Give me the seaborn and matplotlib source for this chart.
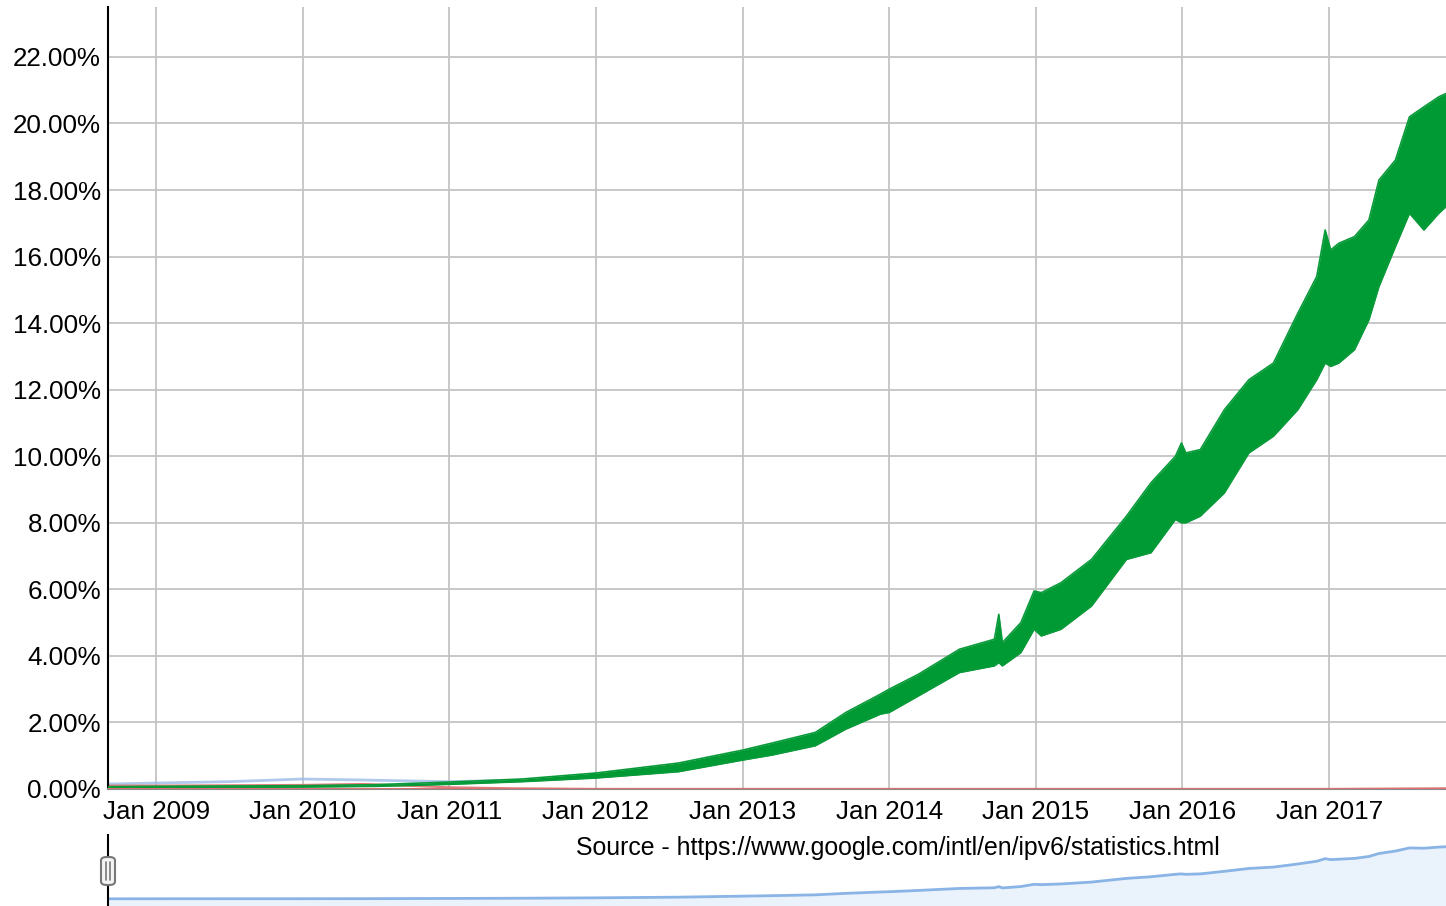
import numpy as np
import pandas as pd
import matplotlib
matplotlib.use("Agg")
import matplotlib.pyplot as plt
from matplotlib.patches import FancyBboxPatch
import seaborn as sns

# green series (native IPv6 share, %), read as weekly low / high envelope
green_dates = ["2008-09-03", "2009-01-01", "2009-07-01", "2010-01-01", "2010-07-01",
               "2011-01-01", "2011-07-01", "2012-01-01", "2012-07-25", "2013-01-01",
               "2013-03-15", "2013-07-01", "2013-09-15", "2013-12-10", "2014-01-01",
               "2014-03-15", "2014-06-25", "2014-09-20", "2014-10-01", "2014-10-10",
               "2014-11-25", "2014-12-28", "2015-01-15", "2015-03-05", "2015-05-20",
               "2015-08-15", "2015-10-15", "2015-12-15", "2015-12-30", "2016-01-10",
               "2016-02-15", "2016-04-15", "2016-06-15", "2016-08-15", "2016-10-15",
               "2016-12-01", "2016-12-22", "2017-01-05", "2017-01-25", "2017-03-05",
               "2017-04-10", "2017-05-05", "2017-06-15", "2017-07-20", "2017-08-25",
               "2017-10-01", "2017-10-19"]
green_low = [0.03, 0.04, 0.05, 0.06, 0.08,
             0.14, 0.22, 0.33, 0.52, 0.87,
             1.02, 1.30, 1.80, 2.25, 2.30,
             2.80, 3.50, 3.70, 3.80, 3.70,
             4.10, 4.80, 4.60, 4.80, 5.50,
             6.90, 7.10, 8.10, 8.00, 8.00,
             8.20, 8.90, 10.10, 10.60, 11.40,
             12.30, 12.80, 12.70, 12.80, 13.20,
             14.10, 15.10, 16.30, 17.30, 16.80,
             17.30, 17.50]
green_high = [0.07, 0.08, 0.09, 0.10, 0.13,
              0.21, 0.30, 0.48, 0.78, 1.17,
              1.38, 1.70, 2.30, 2.85, 3.00,
              3.45, 4.20, 4.50, 5.25, 4.40,
              5.00, 5.95, 5.90, 6.20, 6.90,
              8.20, 9.20, 10.00, 10.40, 10.10,
              10.20, 11.40, 12.30, 12.80, 14.30,
              15.40, 16.80, 16.20, 16.40, 16.60,
              17.10, 18.30, 18.90, 20.20, 20.50,
              20.80, 20.90]

# faint early series near zero
blue_dates = ["2008-09-03", "2009-01-01", "2009-07-01", "2010-01-01", "2010-06-01",
              "2011-01-01", "2011-06-01"]
blue_vals = [0.15, 0.18, 0.22, 0.30, 0.27, 0.22, 0.26]
red_dates = ["2008-09-03", "2009-01-01", "2010-01-01", "2010-06-01", "2011-01-01",
             "2011-06-01", "2012-01-01", "2017-01-01", "2017-10-19"]
red_vals = [0.10, 0.10, 0.12, 0.15, 0.05, 0.02, 0.0, 0.0, 0.02]

year_ticks = [str(y) for y in range(2009, 2018)]
y_ticks = list(range(0, 23, 2))

green_dt = pd.to_datetime(green_dates)
blue_dt = pd.to_datetime(blue_dates)
red_dt = pd.to_datetime(red_dates)
x_min = pd.Timestamp("2008-09-03")
x_max = pd.Timestamp("2017-10-19")

sns.set_theme(style="white")
plt.rcParams["font.family"] = ["Liberation Sans", "DejaVu Sans"]

W, H = 1446, 906
fig = plt.figure(figsize=(W / 100, H / 100), dpi=100)
ax = fig.add_axes([108 / W, (H - 789) / H, 1 - 108 / W, (789 - 7) / H])

GREEN = "#009a34"
sns.lineplot(x=blue_dt, y=blue_vals, ax=ax, color="#9dbbe6", lw=2, alpha=0.8)
sns.lineplot(x=red_dt, y=red_vals, ax=ax, color="#e07070", lw=1.6, alpha=0.9)
ax.fill_between(green_dt, green_low, green_high, color=GREEN, lw=0, zorder=3)
sns.lineplot(x=green_dt, y=green_high, ax=ax, color="#0a9a3a", lw=1.2, zorder=3)
sns.lineplot(x=green_dt, y=green_low, ax=ax, color="#0a9a3a", lw=1.2, zorder=3)
ax.axhline(0, color="#e07070", lw=1.4, zorder=4)

ax.set_xlim(x_min, x_max)
ax.set_ylim(0, 23.5)
ax.set_yticks(y_ticks)
ax.set_yticklabels([f"{v:.2f}%" for v in y_ticks])
ax.set_xticks(pd.to_datetime([f"{y}-01-01" for y in year_ticks]))
ax.set_xticklabels([f"Jan {y}" for y in year_ticks])
ax.tick_params(axis="both", labelsize=18.7, colors="black", length=0)
ax.tick_params(axis="y", pad=5)
ax.tick_params(axis="x", pad=8)
ax.grid(True, color="#c4c4c4", lw=1.3)
ax.set_axisbelow(True)
ax.set_xlabel("")
ax.set_ylabel("")
for s in ["top", "right"]:
    ax.spines[s].set_visible(False)
ax.spines["left"].set_color("black")
ax.spines["left"].set_linewidth(1.5)
ax.spines["bottom"].set_color("#8a8a8a")
ax.spines["bottom"].set_linewidth(1.5)

fig.text(898 / W, (H - 848) / H, "Source - https://www.google.com/intl/en/ipv6/statistics.html",
         ha="center", va="center", fontsize=17.9, color="black")

# range navigator, showing the middle of the weekly band
green_mid = [(lo + hi) / 2 for lo, hi in zip(green_low, green_high)]
nav = fig.add_axes([108 / W, 0, 1 - 108 / W, (906 - 835) / H])
nav.fill_between(green_dt, green_mid, -5, color="#eaf2fc", lw=0)
sns.lineplot(x=green_dt, y=green_mid, ax=nav, color="#8ab4e6", lw=2)
nav.set_xlim(x_min, x_max)
nav.set_ylim(-2.6, 23.5)
nav.set_xticks([])
nav.set_yticks([])
nav.set_xlabel("")
nav.set_ylabel("")
nav.patch.set_alpha(0)
for s in ["top", "right", "bottom"]:
    nav.spines[s].set_visible(False)
nav.spines["left"].set_color("black")
nav.spines["left"].set_linewidth(1.5)

handle = FancyBboxPatch((101 / W, (H - 885) / H), 14 / W, 28 / H,
                        boxstyle="round,pad=0,rounding_size=0.004",
                        transform=fig.transFigure, facecolor="#f4f4f4",
                        edgecolor="#777777", lw=1.5, zorder=10)
fig.patches.append(handle)
for hx in (106, 110):
    fig.add_artist(plt.Line2D([hx / W, hx / W], [(H - 880) / H, (H - 862) / H],
                              transform=fig.transFigure, color="#777777", lw=1.2, zorder=11))

fig.savefig("out.png", dpi=100)
